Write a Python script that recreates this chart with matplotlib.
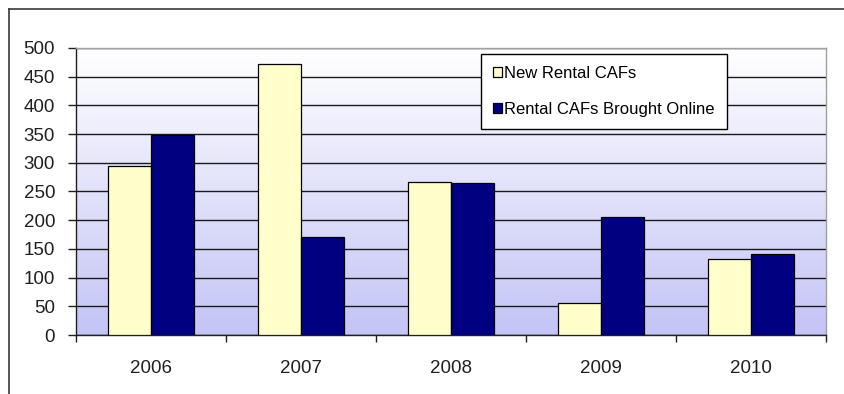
import numpy as np
import matplotlib
matplotlib.use("Agg")
import matplotlib.pyplot as plt
from matplotlib.lines import Line2D

years = ["2006", "2007", "2008", "2009", "2010"]
new_rental_cafs = [294, 472, 267, 55, 132]
cafs_brought_online = [348, 170, 264, 206, 141]
series_names = ["New Rental CAFs", "Rental CAFs Brought Online"]
y_ticks = [0, 50, 100, 150, 200, 250, 300, 350, 400, 450, 500]

plt.rcParams["font.family"] = ["Liberation Sans", "DejaVu Sans"]

W, H = 844, 394
fig = plt.figure(figsize=(W / 100, H / 100), dpi=100)
fig.patch.set_facecolor("white")

# chart frame (open to the right and bottom)
fig.add_artist(Line2D([8.5 / W, 8.5 / W], [0, 1 - 8.5 / H], transform=fig.transFigure,
                      color="#3a3a3a", lw=1.2))
fig.add_artist(Line2D([8.5 / W, 1], [1 - 8.5 / H, 1 - 8.5 / H], transform=fig.transFigure,
                      color="#3a3a3a", lw=1.2))

ax = fig.add_axes([76 / W, 1 - 335 / H, (826 - 76) / W, (335 - 48) / H])

# vertical gradient backdrop: white at top to soft lavender at bottom
grad = np.linspace(0, 1, 256).reshape(-1, 1)
top = np.array([1.0, 1.0, 1.0])
bot = np.array([196, 196, 246]) / 255
img = top * (1 - grad[..., None]) + bot * grad[..., None]
ax.imshow(img, extent=[0, 1, 0, 1], transform=ax.transAxes, aspect="auto",
          origin="upper", zorder=0)

x = np.arange(len(years))
w = 0.287
ax.set_axisbelow(True)
ax.yaxis.grid(True, color="#1a1a1a", lw=1.0, zorder=1)
b1 = ax.bar(x - w / 2, new_rental_cafs, w, color="#FFFFCC", edgecolor="black", lw=0.9, zorder=3)
b2 = ax.bar(x + w / 2, cafs_brought_online, w, color="#000080", edgecolor="black", lw=0.9, zorder=3)

ax.set_xlim(-0.5, len(years) - 0.5)
ax.set_ylim(0, 500)
ax.set_yticks(y_ticks)
ax.set_yticklabels([str(v) for v in y_ticks])

ax.set_xticks(x)
ax.set_xticklabels(years)
ax.set_xticks(np.arange(len(years) + 1) - 0.5, minor=True)
ax.tick_params(axis="x", which="major", length=0, pad=18, labelsize=13.5, labelcolor="#202020")
ax.tick_params(axis="x", which="minor", length=5, width=1, direction="out", color="#202020")
ax.tick_params(axis="y", length=6, width=1, direction="out", pad=9, labelsize=13.5,
               labelcolor="#202020", color="#202020")

for s in ("left", "bottom"):
    ax.spines[s].set_color("#202020")
    ax.spines[s].set_linewidth(1.0)
for s in ("top", "right"):
    ax.spines[s].set_color("#a0a0a0")
    ax.spines[s].set_linewidth(1.0)

leg = ax.legend([b1, b2], series_names, loc="upper left",
                bbox_to_anchor=(481 / W, 1 - 54 / H), bbox_transform=fig.transFigure,
                fancybox=False, frameon=True, edgecolor="black", framealpha=1,
                fontsize=12, handlelength=0.55, handleheight=0.55, handletextpad=0.15,
                labelspacing=1.3, borderpad=0.7, borderaxespad=0)
leg.get_frame().set_linewidth(1.0)
leg.set_zorder(5)

fig.savefig("out.png", dpi=100, facecolor="white")
